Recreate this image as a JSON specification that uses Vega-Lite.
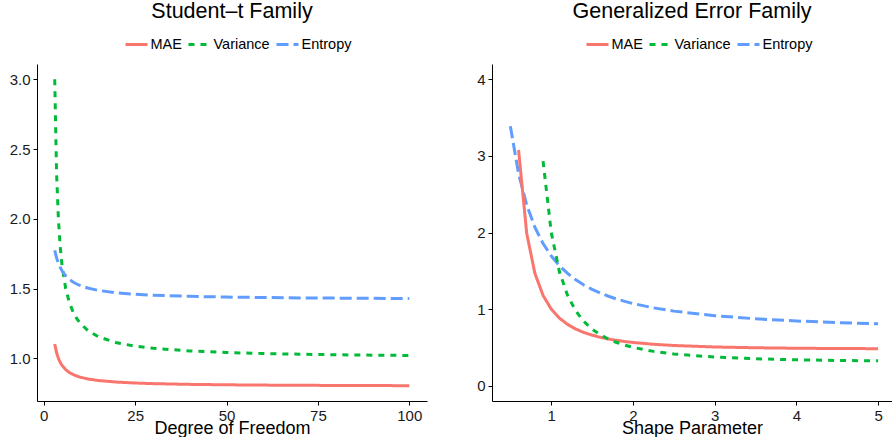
{
  "$schema": "https://vega.github.io/schema/vega-lite/v6.json",
  "padding": {"left": 9, "top": 0, "right": 0, "bottom": 0},
  "background": "white",
  "config": {
    "font": "Liberation Sans",
    "view": {"stroke": null},
    "axis": {"grid": false, "domainColor": "#000", "tickColor": "#000", "labelColor": "#1a1a1a", "labelFontSize": 15, "tickSize": 4, "labelPadding": 3, "titleFontSize": 18, "titleFontWeight": "normal", "titleColor": "#000", "domainWidth": 1, "tickWidth": 1},
    "legend": {"labelFontSize": 14.5, "labelColor": "#000", "symbolType": "stroke", "symbolSize": 484, "symbolStrokeWidth": 3, "labelOffset": 1.5, "columnPadding": 0, "padding": 0},
    "title": {"fontSize": 21.5, "fontWeight": "normal", "color": "#000", "frame": "group", "anchor": "middle", "baseline": "alphabetic", "offset": 10}
  },
  "datasets": {
    "t": [
      {"df": 3, "MAE": 1.1027, "Variance": 3.0, "Entropy": 1.7735},
      {"df": 3.5, "MAE": 1.0410, "Variance": 2.3333, "Entropy": 1.7205},
      {"df": 4, "MAE": 1.0, "Variance": 2.0, "Entropy": 1.6818},
      {"df": 4.5, "MAE": 0.9708, "Variance": 1.8, "Entropy": 1.6515},
      {"df": 5, "MAE": 0.9490, "Variance": 1.6667, "Entropy": 1.6275},
      {"df": 6, "MAE": 0.9186, "Variance": 1.5, "Entropy": 1.5918},
      {"df": 7, "MAE": 0.8983, "Variance": 1.4, "Entropy": 1.5663},
      {"df": 8, "MAE": 0.8839, "Variance": 1.3333, "Entropy": 1.5475},
      {"df": 9, "MAE": 0.8731, "Variance": 1.2857, "Entropy": 1.5328},
      {"df": 10, "MAE": 0.8647, "Variance": 1.25, "Entropy": 1.5213},
      {"df": 12, "MAE": 0.8522, "Variance": 1.2, "Entropy": 1.5038},
      {"df": 15, "MAE": 0.8406, "Variance": 1.1538, "Entropy": 1.4866},
      {"df": 20, "MAE": 0.8294, "Variance": 1.1111, "Entropy": 1.4695},
      {"df": 25, "MAE": 0.8228, "Variance": 1.0870, "Entropy": 1.4593},
      {"df": 30, "MAE": 0.8185, "Variance": 1.0714, "Entropy": 1.4525},
      {"df": 40, "MAE": 0.8132, "Variance": 1.0526, "Entropy": 1.4441},
      {"df": 50, "MAE": 0.8101, "Variance": 1.0417, "Entropy": 1.4390},
      {"df": 60, "MAE": 0.8080, "Variance": 1.0345, "Entropy": 1.4357},
      {"df": 70, "MAE": 0.8066, "Variance": 1.0294, "Entropy": 1.4333},
      {"df": 80, "MAE": 0.8055, "Variance": 1.0256, "Entropy": 1.4315},
      {"df": 90, "MAE": 0.8046, "Variance": 1.0227, "Entropy": 1.4301},
      {"df": 100, "MAE": 0.8039, "Variance": 1.0204, "Entropy": 1.4290}
    ],
    "ged": [
      {"p": 0.5, "Entropy": 3.3863},
      {"p": 0.6, "MAE": 3.0774, "Entropy": 2.7683},
      {"p": 0.7, "MAE": 1.9870, "Entropy": 2.3573},
      {"p": 0.8, "MAE": 1.4666, "Entropy": 2.0680},
      {"p": 0.9, "MAE": 1.1778, "Variance": 2.9323, "Entropy": 1.8556},
      {"p": 1.0, "MAE": 1.0, "Variance": 2.0, "Entropy": 1.6931},
      {"p": 1.1, "MAE": 0.8822, "Variance": 1.4877, "Entropy": 1.5667},
      {"p": 1.2, "MAE": 0.7996, "Variance": 1.1774, "Entropy": 1.4655},
      {"p": 1.3, "MAE": 0.7396, "Variance": 0.9762, "Entropy": 1.3831},
      {"p": 1.4, "MAE": 0.6942, "Variance": 0.8379, "Entropy": 1.3149},
      {"p": 1.5, "MAE": 0.6595, "Variance": 0.7385, "Entropy": 1.2575},
      {"p": 1.6, "MAE": 0.6317, "Variance": 0.6646, "Entropy": 1.2093},
      {"p": 1.7, "MAE": 0.6098, "Variance": 0.6082, "Entropy": 1.1676},
      {"p": 1.8, "MAE": 0.5918, "Variance": 0.5639, "Entropy": 1.1315},
      {"p": 1.9, "MAE": 0.5766, "Variance": 0.5287, "Entropy": 1.1003},
      {"p": 2.0, "MAE": 0.5642, "Variance": 0.5, "Entropy": 1.0724},
      {"p": 2.25, "MAE": 0.5408, "Variance": 0.4480, "Entropy": 1.0164},
      {"p": 2.5, "MAE": 0.5249, "Variance": 0.4139, "Entropy": 0.9735},
      {"p": 3.0, "MAE": 0.5055, "Variance": 0.3733, "Entropy": 0.9133},
      {"p": 3.5, "MAE": 0.4949, "Variance": 0.3511, "Entropy": 0.8735},
      {"p": 4.0, "MAE": 0.4889, "Variance": 0.3380, "Entropy": 0.8449},
      {"p": 4.5, "MAE": 0.4852, "Variance": 0.3296, "Entropy": 0.8243},
      {"p": 5.0, "MAE": 0.4832, "Variance": 0.3244, "Entropy": 0.8077}
    ]
  },
  "spacing": 65,
  "bounds": "flush",
  "hconcat": [
    {
      "title": "Student–t Family",
      "width": 390,
      "height": 337,
      "data": {"name": "t"},
      "transform": [
        {"fold": ["MAE", "Variance", "Entropy"], "as": ["measure", "value"]},
        {"filter": "isValid(datum.value)"}
      ],
      "mark": {"type": "line", "strokeWidth": 3, "strokeCap": "butt", "clip": true},
      "encoding": {
        "x": {"field": "df", "type": "quantitative", "scale": {"domain": [-1.85, 104.85], "nice": false, "zero": false}, "axis": {"values": [0, 25, 50, 75, 100], "title": "Degree of Freedom", "titleY": 32, "titleBaseline": "alphabetic"}},
        "y": {"field": "value", "type": "quantitative", "scale": {"domain": [0.694, 3.11], "nice": false, "zero": false}, "axis": {"values": [1, 1.5, 2, 2.5, 3], "format": ".1f", "title": null}},
        "color": {"field": "measure", "type": "nominal", "sort": ["MAE", "Variance", "Entropy"], "scale": {"domain": ["MAE", "Variance", "Entropy"], "range": ["#F8766D", "#00BA38", "#619CFF"]}, "legend": {"orient": "none", "legendX": 87, "legendY": -32, "direction": "horizontal", "title": null}},
        "strokeDash": {"field": "measure", "type": "nominal", "sort": ["MAE", "Variance", "Entropy"], "scale": {"domain": ["MAE", "Variance", "Entropy"], "range": [[1, 0], [6, 6], [12, 5]]}, "legend": {"orient": "none", "legendX": 87, "legendY": -32, "direction": "horizontal", "title": null}}
      }
    },
    {
      "title": "Generalized Error Family",
      "width": 400,
      "height": 337,
      "data": {"name": "ged"},
      "transform": [
        {"fold": ["MAE", "Variance", "Entropy"], "as": ["measure", "value"]},
        {"filter": "isValid(datum.value)"}
      ],
      "mark": {"type": "line", "strokeWidth": 3, "strokeCap": "butt", "clip": true},
      "encoding": {
        "x": {"field": "p", "type": "quantitative", "scale": {"domain": [0.275, 5.17], "nice": false, "zero": false}, "axis": {"values": [1, 2, 3, 4, 5], "title": "Shape Parameter", "titleY": 32, "titleBaseline": "alphabetic"}},
        "y": {"field": "value", "type": "quantitative", "scale": {"domain": [-0.2, 4.2], "nice": false, "zero": false}, "axis": {"values": [0, 1, 2, 3, 4], "title": null}},
        "color": {"field": "measure", "type": "nominal", "sort": ["MAE", "Variance", "Entropy"], "scale": {"domain": ["MAE", "Variance", "Entropy"], "range": ["#F8766D", "#00BA38", "#619CFF"]}, "legend": {"orient": "none", "legendX": 93, "legendY": -32, "direction": "horizontal", "title": null}},
        "strokeDash": {"field": "measure", "type": "nominal", "sort": ["MAE", "Variance", "Entropy"], "scale": {"domain": ["MAE", "Variance", "Entropy"], "range": [[1, 0], [6, 6], [12, 5]]}, "legend": {"orient": "none", "legendX": 93, "legendY": -32, "direction": "horizontal", "title": null}}
      }
    }
  ],
  "resolve": {
    "scale": {"color": "independent", "strokeDash": "independent", "x": "independent", "y": "independent"},
    "legend": {"color": "independent", "strokeDash": "independent"}
  }
}
